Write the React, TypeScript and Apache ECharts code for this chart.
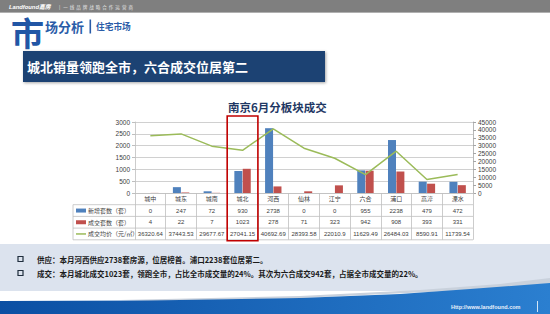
import React, { useEffect, useRef } from "react";
import * as echarts from "echarts";

const categories = ["城中", "城东", "城南", "城北", "河西", "仙林", "江宁", "六合", "浦口", "高淳", "溧水"];
const newSupply = [0, 247, 72, 930, 2738, 0, 0, 955, 2238, 479, 472];
const deals = [4, 22, 7, 1023, 278, 71, 323, 942, 908, 393, 331];
const avgPrice = [36320.64, 37443.53, 29677.67, 27041.15, 40692.69, 28393.58, 22010.9, 11629.49, 26484.03, 8590.91, 11739.54];
const leftTicks = { min: 0, max: 3000, interval: 500 };
const rightTicks = { min: 0, max: 45000, interval: 5000 };
const rowNames = ["新增套数（套）", "成交套数（套）", "成交均价（元/㎡）"];
const highlight = "城北";

const CJK = '"Noto Sans CJK SC", "Liberation Sans", sans-serif';
const NUM = '"Liberation Sans", "Noto Sans CJK SC", sans-serif';

const BLUE = "#4f81bd";
const RED = "#c0504d";
const GREEN = "#9bbb59";

const GRID = { left: 135, right: 77, top: 122, bottom: 121 };
const ROW_H = 11.7;

export default function App() {
  const ref = useRef<HTMLDivElement>(null);
  useEffect(() => {
    if (!ref.current) return;
    const chart = echarts.init(ref.current, null, { renderer: "svg" });
    const axisY = 314 - GRID.bottom;
    const tableLeft = 73;
    const tableRight = 550 - GRID.right;

    const tableGraphics: any[] = [];
    for (let k = 1; k <= 4; k++) {
      tableGraphics.push({
        type: "line",
        shape: { x1: tableLeft, y1: axisY + k * ROW_H, x2: tableRight, y2: axisY + k * ROW_H },
        style: { stroke: "#bfbfbf", lineWidth: 0.8 },
      });
    }
    tableGraphics.push({
      type: "line",
      shape: { x1: tableLeft, y1: axisY + ROW_H, x2: tableLeft, y2: axisY + 4 * ROW_H },
      style: { stroke: "#bfbfbf", lineWidth: 0.8 },
    });
    rowNames.forEach((name, i) => {
      const cy = axisY + (i + 1.5) * ROW_H;
      if (i < 2) {
        tableGraphics.push({
          type: "rect",
          shape: { x: 76, y: cy - 2, width: 10, height: 4 },
          style: { fill: i === 0 ? BLUE : RED },
        });
      } else {
        tableGraphics.push({
          type: "line",
          shape: { x1: 76, y1: cy, x2: 86, y2: cy },
          style: { stroke: GREEN, lineWidth: 1.5 },
        });
      }
      tableGraphics.push({
        type: "text",
        x: 88,
        y: cy,
        style: { text: name, fill: "#404040", fontSize: 6, fontFamily: CJK, verticalAlign: "middle" },
      });
    });

    const deco: any[] = [
      { type: "rect", shape: { x: 0, y: 0, width: 550, height: 12 }, style: { fill: "#7f7f7f" } },
      { type: "rect", shape: { x: 0, y: 12, width: 550, height: 1 }, style: { fill: "#b0b0b0" } },
      {
        type: "text", x: 9, y: 6.5,
        style: { text: "Landfound嘉房", fill: "#ffffff", fontSize: 5.8, fontWeight: "bold", fontStyle: "italic", fontFamily: NUM, verticalAlign: "middle" },
      },
      {
        type: "text", x: 59, y: 6.5,
        style: { text: "|   一  线  品  牌  战  略  合  作  运  营  商", fill: "#e6e6e6", fontSize: 4.5, fontFamily: CJK, verticalAlign: "middle" },
      },
      {
        type: "text", x: 11, y: 32,
        style: { text: "市", fill: "#2156a5", fontSize: 33, fontWeight: "bold", fontFamily: CJK, verticalAlign: "middle" },
      },
      {
        type: "text", x: 45, y: 26.5,
        style: { text: "场分析", fill: "#2a5ca8", fontSize: 13, fontWeight: "bold", fontFamily: CJK, verticalAlign: "middle" },
      },
      { type: "rect", shape: { x: 89.5, y: 19.5, width: 1.6, height: 14 }, style: { fill: "#2a5ca8" } },
      {
        type: "text", x: 96, y: 26.5,
        style: { text: "住宅市场", fill: "#2a5ca8", fontSize: 8.7, fontWeight: "bold", fontFamily: CJK, verticalAlign: "middle" },
      },
      {
        type: "rect", shape: { x: 23, y: 51, width: 302, height: 31 },
        style: { fill: "#1f4373", shadowBlur: 3, shadowColor: "rgba(0,0,0,0.35)", shadowOffsetX: 1, shadowOffsetY: 1 },
      },
      {
        type: "text", x: 27, y: 66.5,
        style: { text: "城北销量领跑全市，六合成交位居第二", fill: "#ffffff", fontSize: 13, fontWeight: "bold", fontFamily: CJK, verticalAlign: "middle" },
      },
      { type: "rect", shape: { x: 0, y: 244, width: 550, height: 47 }, style: { fill: "#dce3ee" } },
      { type: "rect", shape: { x: 18, y: 256.5, width: 5, height: 5 }, style: { fill: "none", stroke: "#1f2d3d", lineWidth: 1.2 } },
      { type: "rect", shape: { x: 18, y: 270.5, width: 5, height: 5 }, style: { fill: "none", stroke: "#1f2d3d", lineWidth: 1.2 } },
      {
        type: "text", x: 37, y: 259,
        style: { text: "供应：本月河西供应2738套房源，位居榜首。浦口2238套位居第二。", fill: "#1a1a1a", fontSize: 7.5, fontWeight: "bold", fontFamily: CJK, verticalAlign: "middle" },
      },
      {
        type: "text", x: 37, y: 273,
        style: { text: "成交：本月城北成交1023套，领跑全市，占比全市成交量的24%。其次为六合成交942套，占据全市成交量的22%。", fill: "#1a1a1a", fontSize: 7.5, fontWeight: "bold", fontFamily: CJK, verticalAlign: "middle" },
      },
      {
        type: "polygon",
        shape: { points: [[120, 300], [300, 296], [420, 290], [500, 284], [550, 278], [550, 284], [450, 291], [300, 298], [150, 301]] },
        style: { fill: "#c9d1dc" },
      },
      {
        type: "polygon",
        shape: { points: [[0, 301], [150, 300.5], [300, 298], [400, 294], [470, 289], [550, 283], [550, 314], [0, 314]] },
        style: {
          fill: new echarts.graphic.LinearGradient(0, 0, 1, 0, [
            { offset: 0, color: "#0b4fa3" },
            { offset: 1, color: "#2b7fd0" },
          ]),
        },
      },
      {
        type: "text", x: 451, y: 306.5,
        style: { text: "Http://www.landfound.com", fill: "#e8f0fa", fontSize: 5.5, fontWeight: "bold", fontFamily: NUM, verticalAlign: "middle" },
      },
      { type: "rect", shape: { x: 537, y: 301, width: 0.8, height: 11 }, style: { fill: "#ffffff" } },
    ];

    const option: any = {
      animation: false,
      backgroundColor: "#ffffff",
      title: {
        text: "南京6月分板块成交",
        left: 223,
        top: 96,
        textStyle: { fontSize: 11.5, fontWeight: "bold", color: "#1f3864", fontFamily: CJK },
      },
      grid: { ...GRID, containLabel: false },
      xAxis: {
        type: "category",
        data: categories,
        boundaryGap: true,
        axisLine: { show: true, lineStyle: { color: "#bfbfbf", width: 0.8 } },
        axisTick: { show: true, interval: 0, length: 4 * ROW_H, lineStyle: { color: "#bfbfbf", width: 0.8 } },
        axisLabel: {
          interval: 0,
          margin: 0,
          formatter: (v: string, i: number) =>
            `{c|${v}}\n{n|${newSupply[i]}}\n{n|${deals[i]}}\n{n|${String(avgPrice[i])}}`,
          rich: {
            c: { fontSize: 6, lineHeight: ROW_H, color: "#404040", fontFamily: CJK, align: "center" },
            n: { fontSize: 6, lineHeight: ROW_H, color: "#404040", fontFamily: NUM, align: "center" },
          },
        },
      },
      yAxis: [
        {
          type: "value",
          ...leftTicks,
          axisLine: { show: true, lineStyle: { color: "#bfbfbf", width: 0.8 } },
          axisTick: { show: true, length: 3, lineStyle: { color: "#bfbfbf" } },
          axisLabel: { fontSize: 6.5, color: "#404040", fontFamily: NUM, margin: 5, formatter: (v: number) => String(v) },
          splitLine: { show: true, lineStyle: { color: "#c4c4c4", width: 0.8 } },
        },
        {
          type: "value",
          ...rightTicks,
          position: "right",
          axisLine: { show: true, lineStyle: { color: "#a6a6a6", width: 0.8 } },
          axisTick: { show: true, length: 3, lineStyle: { color: "#a6a6a6" } },
          axisLabel: { fontSize: 6.5, color: "#404040", fontFamily: NUM, margin: 5, formatter: (v: number) => String(v) },
          splitLine: { show: false },
        },
      ],
      series: [
        {
          name: rowNames[0],
          type: "bar",
          data: newSupply,
          barWidth: 8,
          barGap: "5%",
          itemStyle: { color: BLUE },
        },
        {
          name: rowNames[1],
          type: "bar",
          data: deals,
          barWidth: 8,
          itemStyle: { color: RED },
        },
        {
          name: rowNames[2],
          type: "line",
          yAxisIndex: 1,
          data: avgPrice,
          showSymbol: false,
          symbol: "none",
          lineStyle: { color: GREEN, width: 1.5 },
          itemStyle: { color: GREEN },
        },
      ],
      graphic: [...deco, ...tableGraphics],
    };
    chart.setOption(option);

    const idx = categories.indexOf(highlight);
    const cx = chart.convertToPixel({ xAxisIndex: 0 }, idx) as number;
    const cx1 = chart.convertToPixel({ xAxisIndex: 0 }, idx + 1) as number;
    const band = cx1 - cx;
    chart.setOption({
      graphic: [
        ...deco,
        ...tableGraphics,
        {
          type: "rect",
          shape: { x: cx - band / 2, y: 116, width: band, height: axisY + 4 * ROW_H + 1 - 116 },
          style: { fill: "none", stroke: "#c00000", lineWidth: 1.6 },
          z: 100,
        },
      ],
    });

    return () => chart.dispose();
  }, []);

  return (
    <div
      ref={ref}
      style={{ position: "fixed", left: 0, top: 0, width: 550, height: 314 }}
    />
  );
}
